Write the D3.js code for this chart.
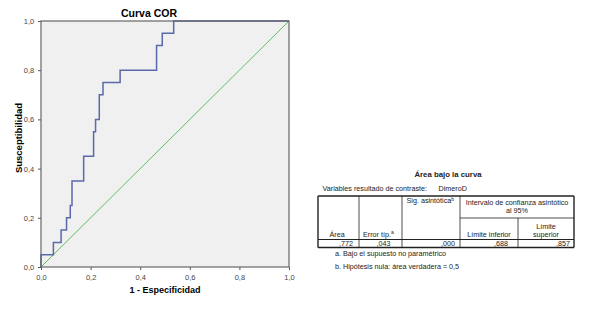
<!DOCTYPE html>
<html>
<head>
<meta charset="utf-8">
<script src="https://cdn.jsdelivr.net/npm/d3@7"></script>
<style>
  body { margin: 0; background: #fff; }
  svg { font-family: "Liberation Sans", Arial, sans-serif; }
</style>
</head>
<body>
<script>
// ROC curve vertices (1 - specificity, sensitivity)
const fpr = [0, 0, 0.05, 0.081, 0.103, 0.118, 0.125, 0.172, 0.212, 0.22, 0.235, 0.25, 0.319, 0.466, 0.489, 0.535, 1];
const tpr = [0, 0.05, 0.10, 0.15, 0.20, 0.25, 0.35, 0.45, 0.55, 0.60, 0.70, 0.75, 0.80, 0.90, 0.95, 1.0, 1.0];
const refLine = [0, 1];
const tickValues = [0, 0.2, 0.4, 0.6, 0.8, 1.0];

// table content
const tableTitle = "Área bajo la curva";
const tableVar = ["Variables resultado de contraste:", "DimeroD"];
const tableValues = [",772", ",043", ",000", ",688", ",857"];
const footnotes = ["a. Bajo el supuesto no paramétrico", "b. Hipótesis nula: área verdadera = 0,5"];

const width = 600, height = 309;
const svg = d3.select("body").append("svg")
  .attr("width", width).attr("height", height);

const x = d3.scaleLinear().domain([0, 1]).range([41, 289]);
const y = d3.scaleLinear().domain([0, 1]).range([267, 21]);

const es = d3.formatLocale({decimal: ",", thousands: ".", grouping: [3], currency: ["", "€"]});
const fmt = es.format(".1f");

// plot background
svg.append("rect")
  .attr("x", x(0)).attr("y", y(1))
  .attr("width", x(1) - x(0)).attr("height", y(0) - y(1))
  .attr("fill", "#f0f0f0");

// axes
const xAxis = svg.append("g")
  .attr("transform", `translate(0,${y(0)})`)
  .call(d3.axisBottom(x).tickValues(tickValues).tickFormat(fmt).tickSize(3).tickSizeOuter(0));
const yAxis = svg.append("g")
  .attr("transform", `translate(${x(0)},0)`)
  .call(d3.axisLeft(y).tickValues(tickValues).tickFormat(fmt).tickSize(3).tickSizeOuter(0));
[xAxis, yAxis].forEach(a => {
  a.select(".domain").remove();
  a.selectAll("line").attr("stroke", "#555");
  a.selectAll("text").attr("fill", "#444").style("font-size", "7.5px");
});
xAxis.selectAll("text").attr("dy", "0.9em");
yAxis.selectAll("text").attr("dx", "-0.1em");

// reference diagonal
svg.append("line")
  .attr("x1", x(refLine[0])).attr("y1", y(refLine[0]))
  .attr("x2", x(refLine[1])).attr("y2", y(refLine[1]))
  .attr("stroke", "#5cbf63").attr("stroke-width", 1);

// ROC step line
const rocLine = d3.line()
  .x(d => x(d[0])).y(d => y(d[1]))
  .curve(d3.curveStepAfter);
svg.append("path")
  .datum(d3.zip(fpr, tpr))
  .attr("d", rocLine)
  .attr("fill", "none")
  .attr("stroke", "#5a69aa").attr("stroke-width", 1.5);

// plot border
svg.append("rect")
  .attr("x", x(0)).attr("y", y(1))
  .attr("width", x(1) - x(0)).attr("height", y(0) - y(1))
  .attr("fill", "none").attr("stroke", "#666").attr("stroke-width", 1.2);

// titles
svg.append("text").attr("x", 149).attr("y", 17)
  .attr("text-anchor", "middle").style("font-size", "10.5px").style("font-weight", "bold")
  .text("Curva COR");
svg.append("text").attr("x", 165).attr("y", 293)
  .attr("text-anchor", "middle").style("font-size", "9px").style("font-weight", "bold")
  .text("1 - Especificidad");
svg.append("text")
  .attr("transform", "translate(22,138) rotate(-90)")
  .attr("text-anchor", "middle").style("font-size", "9.5px").style("font-weight", "bold")
  .text("Susceptibilidad");

// ---- table ----
const t = svg.append("g").style("font-size", "7.2px").attr("fill", "#222");
t.append("text").attr("x", 448).attr("y", 176.5).attr("text-anchor", "middle")
  .style("font-weight", "bold").style("font-size", "7.8px").text(tableTitle);
t.append("text").attr("x", 322.5).attr("y", 190.5).text(tableVar[0]);
t.append("text").attr("x", 438.5).attr("y", 190.5).text(tableVar[1]);

const L = 318, R = 574, T = 196, M = 218, D = 239.5, B = 247.5;
const cols = [359, 402, 460, 518];
const tl = (x1, y1, x2, y2, w) => t.append("line")
  .attr("x1", x1).attr("y1", y1).attr("x2", x2).attr("y2", y2)
  .attr("stroke", "#222").attr("stroke-width", w || 0.8);

tl(L, T, R, T, 1.4); tl(L, B, R, B, 1.4);
tl(L, T, L, B, 1.4); tl(R, T, R, B, 1.4);
tl(L, D, R, D, 1.2);
tl(cols[2], M, R, M);
tl(cols[0], T, cols[0], B); tl(cols[1], T, cols[1], B);
tl(cols[2], T, cols[2], B); tl(cols[3], M, cols[3], B);

t.append("text").attr("x", 329.5).attr("y", 236.5).text("Área");
const et = t.append("text").attr("x", 363).attr("y", 236.5).text("Error típ.");
et.append("tspan").attr("dy", -3).style("font-size", "5px").text("a");
const sg = t.append("text").attr("x", 406.5).attr("y", 203).text("Sig. asintótica");
sg.append("tspan").attr("dy", -2.5).style("font-size", "5px").text("b");
t.append("text").attr("x", 517).attr("y", 204.5).attr("text-anchor", "middle").text("Intervalo de confianza asintótico");
t.append("text").attr("x", 517).attr("y", 213).attr("text-anchor", "middle").text("al 95%");
t.append("text").attr("x", 489).attr("y", 236.5).attr("text-anchor", "middle").text("Límite inferior");
t.append("text").attr("x", 546).attr("y", 228.5).attr("text-anchor", "middle").text("Límite");
t.append("text").attr("x", 546).attr("y", 236.5).attr("text-anchor", "middle").text("superior");

const valRight = [353, 390.5, 455, 508, 570];
t.selectAll(".val").data(tableValues).join("text")
  .attr("class", "val")
  .attr("x", (d, i) => valRight[i]).attr("y", 245.5)
  .attr("text-anchor", "end").text(d => d);

t.selectAll(".fn").data(footnotes).join("text")
  .attr("class", "fn")
  .attr("x", 335).attr("y", (d, i) => 256 + i * 13)
  .text(d => d);
</script>
</body>
</html>
